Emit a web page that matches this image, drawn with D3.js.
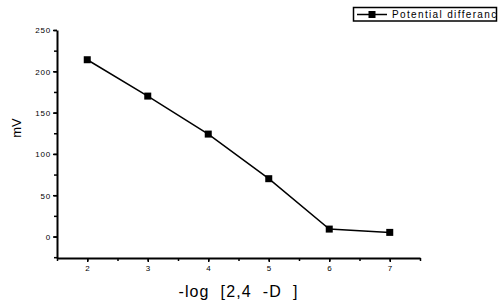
<!DOCTYPE html>
<html>
<head>
<meta charset="utf-8">
<script src="https://cdn.jsdelivr.net/npm/d3@7"></script>
<style>
  body { margin: 0; background: #fff; }
  svg text { font-family: "Liberation Sans", Arial, sans-serif; fill: #000; }
</style>
</head>
<body>
<div id="chart"></div>
<script>
var logConc = [2, 3, 4, 5, 6, 7]
  , potential = [214, 170, 124, 70, 9, 5]
  , xTicks = [2, 3, 4, 5, 6, 7]
  , yTicks = [0, 50, 100, 150, 200, 250]
  , seriesName = "Potential differance"
  , xTitle = "-log  [2,4  -D  ]"
  , yTitle = "mV"
;

var width = 500, height = 306
  , plot = { left: 57, right: 420, top: 30, bottom: 258 }
;

var svg = d3.select("#chart").append("svg")
    .attr("width", width)
    .attr("height", height);

var x = d3.scaleLinear().domain([1.5, 7.5]).range([plot.left, plot.right]);
var y = d3.scaleLinear().domain([-26, 250]).range([plot.bottom, plot.top]);

// minor ticks first, majors drawn on top
svg.append("g")
    .attr("transform", "translate(0," + plot.bottom + ")")
    .call(d3.axisBottom(x).tickValues(d3.range(1.5, 7.51, 0.5)).tickSize(3).tickFormat(""))
    .call(function(g) { g.select(".domain").remove(); })
    .selectAll("line").attr("stroke-width", 1.5);
svg.append("g")
    .attr("transform", "translate(" + plot.left + ",0)")
    .call(d3.axisLeft(y).tickValues(d3.range(-25, 251, 25)).tickSize(3).tickFormat(""))
    .call(function(g) { g.select(".domain").remove(); })
    .selectAll("line").attr("stroke-width", 1.5);

var xAxis = svg.append("g")
    .attr("transform", "translate(0," + plot.bottom + ")")
    .call(d3.axisBottom(x).tickValues(xTicks).tickFormat(d3.format("d"))
        .tickSize(4).tickPadding(3).tickSizeOuter(0));
var yAxis = svg.append("g")
    .attr("transform", "translate(" + plot.left + ",0)")
    .call(d3.axisLeft(y).tickValues(yTicks).tickFormat(d3.format("d"))
        .tickSize(4).tickPadding(2).tickSizeOuter(0));

[xAxis, yAxis].forEach(function(g) {
    g.select(".domain").attr("stroke-width", 2);
    g.selectAll(".tick line").attr("stroke-width", 1.5);
    g.selectAll("text")
        .style("font-size", "8px")
        .style("letter-spacing", "0.8px")
        .attr("fill", "#000");
});
yAxis.selectAll("text").attr("dy", "0.35em");

// series
var line = d3.line()
    .x(function(d, i) { return x(logConc[i]); })
    .y(function(d) { return y(d); });

svg.append("path")
    .datum(potential)
    .attr("d", line)
    .attr("fill", "none")
    .attr("stroke", "#000")
    .attr("stroke-width", 1.5);

svg.selectAll(".pt")
    .data(potential)
  .enter().append("rect")
    .attr("class", "pt")
    .attr("x", function(d, i) { return x(logConc[i]) - 3.5; })
    .attr("y", function(d) { return y(d) - 3.5; })
    .attr("width", 7)
    .attr("height", 7)
    .attr("fill", "#000");

// axis titles
svg.append("text")
    .attr("x", (plot.left + plot.right) / 2)
    .attr("y", 297)
    .attr("text-anchor", "middle")
    .style("font-size", "16px")
    .style("letter-spacing", "1.1px")
    .style("white-space", "pre")
    .text(xTitle);

svg.append("text")
    .attr("transform", "translate(21,128) rotate(-90)")
    .attr("text-anchor", "middle")
    .style("font-size", "13px")
    .text(yTitle);

// legend (clipped at right, as in the original)
var legend = svg.append("g").attr("class", "legend");
legend.append("clipPath").attr("id", "legclip")
  .append("rect").attr("x", 353).attr("y", 7).attr("width", 143).attr("height", 14);
legend.append("rect")
    .attr("x", 353.5).attr("y", 7.5).attr("width", 143).attr("height", 13.5)
    .attr("fill", "#fff").attr("stroke", "#000").attr("stroke-width", 1.5);
legend.append("line")
    .attr("x1", 357).attr("x2", 387).attr("y1", 14.5).attr("y2", 14.5)
    .attr("stroke", "#000").attr("stroke-width", 1.5);
legend.append("rect")
    .attr("x", 368.5).attr("y", 11).attr("width", 7).attr("height", 7)
    .attr("fill", "#000");
legend.append("text")
    .attr("x", 392).attr("y", 18)
    .attr("clip-path", "url(#legclip)")
    .style("font-size", "10px")
    .style("letter-spacing", "1.35px")
    .text(seriesName);
</script>
</body>
</html>
